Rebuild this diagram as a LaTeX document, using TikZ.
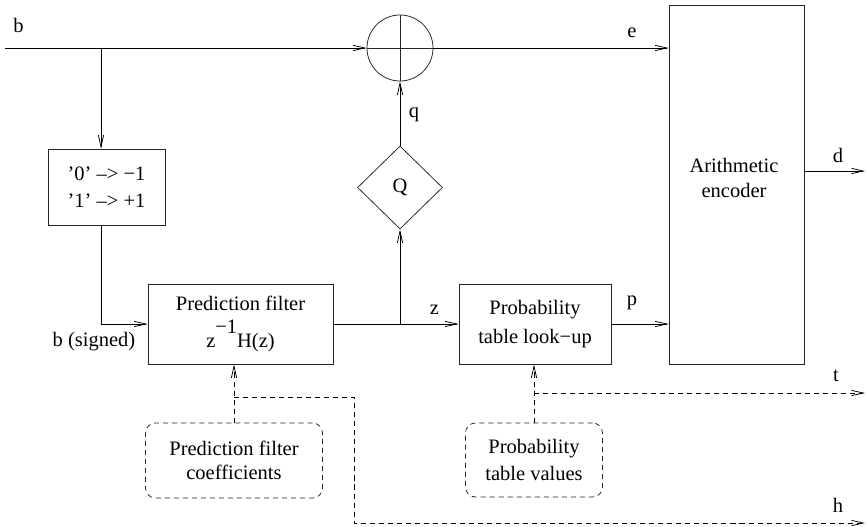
\documentclass[tikz,border=0pt]{standalone}
\usepackage{fontspec}
\setmainfont{Liberation Serif}
\newfontfamily\figfont{Liberation Serif}
\usetikzlibrary{shapes.geometric,arrows.meta}

\tikzset{
  blk/.style={draw=black!85,rectangle,align=center,inner sep=0pt},
  softblk/.style={draw=black!85,rectangle,rounded corners=8.5pt,dash pattern=on 4.3pt off 3.4pt,align=center,inner sep=0pt},
  dsh/.style={dash pattern=on 4.3pt off 3.4pt},
  lbl/.style={anchor=base,inner sep=0pt}
}

\begin{document}
\begin{tikzpicture}[x=0.03cm,y=-0.03cm,line width=0.65pt,
  font=\figfont\fontsize{17.5}{21}\selectfont,
  >={Straight Barb[length=10pt,width=4.5pt]}]
\useasboundingbox (0,0) rectangle (867,526);

% blocks
\node[draw=black!85,circle,minimum size=1.98cm,inner sep=0pt] (sum) at (400,48) {};
\draw[black!85] (sum.north) -- (sum.south) (sum.west) -- (sum.east);
\node[draw=black!85,diamond,minimum width=2.55cm,minimum height=2.49cm,inner sep=0pt] (qd) at (400,187.5) {Q};
\node[blk,minimum width=3.51cm,minimum height=2.28cm,font=\figfont\fontsize{17.5}{23}\selectfont] (sgn) at (106.5,187) {’0’ –> −1\\’1’ –> +1};
\node[blk,minimum width=5.55cm,minimum height=2.4cm,font=\figfont\fontsize{17.5}{31}\selectfont] (pf) at (240.5,324)
  {Prediction filter\\z\raisebox{12pt}{−1}H(z)};
\node[blk,minimum width=4.56cm,minimum height=2.4cm,font=\figfont\fontsize{17.5}{25}\selectfont] (prob) at (535,324) {Probability\\table look−up};
\node[blk,minimum width=4.05cm,minimum height=10.77cm] (enc) at (736.5,184.5) {};
\node[align=center,inner sep=0pt] (enctxt) at (734,178) {Arithmetic\\encoder};
\node[softblk,minimum width=5.31cm,minimum height=2.25cm] (coef) at (234,460.5) {Prediction filter\\coefficients};
\node[softblk,minimum width=4.11cm,minimum height=2.22cm,font=\figfont\fontsize{17.5}{23}\selectfont] (vals) at (534,460) {Probability\\table values};

% free ends
\coordinate (bin) at (5,48);
\coordinate (bsplit) at (101,48);
\coordinate (dout) at (865,171);
\coordinate (tout) at (865,393);
\coordinate (hturn) at (354,397);
\coordinate (hout) at (865,523);

% signal paths
\draw[->] (bin) -- (sum.west);
\draw[->] (bsplit) -- (bsplit |- sgn.north);
\draw[->] (sgn.south -| bsplit) |- (pf.west);
\draw[->] (pf.east) -- (prob.west);
\draw[->] (pf.east -| qd.south) -- (qd.south);
\draw[->] (qd.north) -- (sum.south);
\draw[->] (sum.east) -- (sum.east -| enc.west);
\draw[->] (prob.east) -- (prob.east -| enc.west);
\draw[->] (enc.east |- dout) -- (dout);

% side information
\draw[->,dsh] (coef.north) -- (coef.north |- pf.south);
\draw[->,dsh] (hturn -| coef.north) -- (hturn) |- (hout);
\draw[->,dsh] (vals.north) -- (vals.north |- prob.south);
\draw[->,dsh] (tout -| vals.north) -- (tout);

% labels
\node[lbl] (lb) at (18.5,32) {b};
\node[lbl] (le) at (632,37) {e};
\node[lbl] (lq) at (414,117) {q};
\node[lbl] (lz) at (434.5,314) {z};
\node[lbl] (lp) at (632,305) {p};
\node[lbl] (ld) at (838,162) {d};
\node[lbl] (lt) at (836,381) {t};
\node[lbl] (lh) at (838,512) {h};
\node[lbl] (lbs) at (94,346) {b (signed)};
\end{tikzpicture}
\end{document}
